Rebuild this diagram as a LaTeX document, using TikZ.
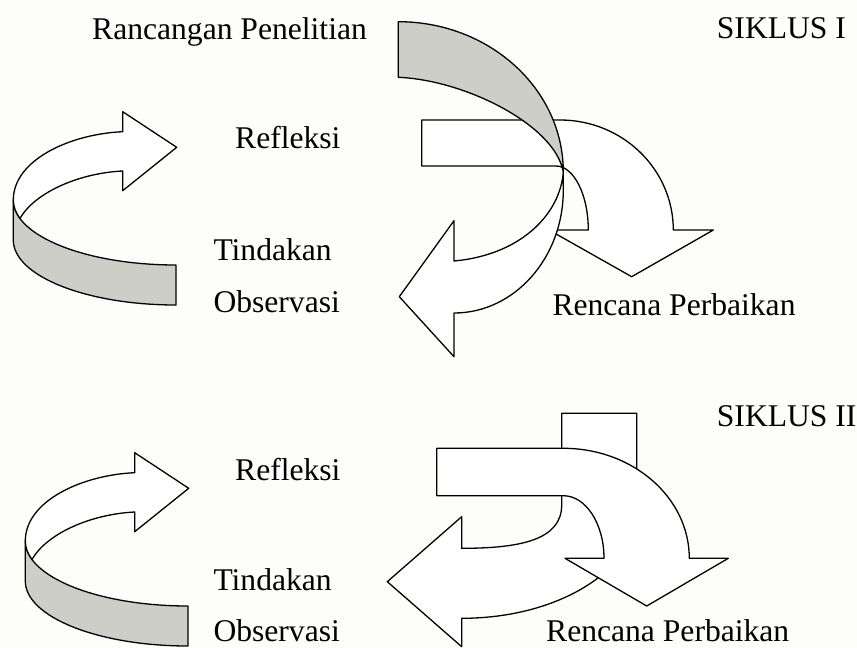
\documentclass[tikz,border=0pt]{standalone}
\usepackage{fontspec}
\setmainfont{Liberation Serif}
\definecolor{bandgray}{RGB}{206,206,201}
\definecolor{bgcol}{RGB}{253,253,249}
\tikzset{
  shapeline/.style={draw=black, line width=1.3pt, line join=round, fill=white},
  bandshape/.style={draw=black, line width=1.3pt, line join=round, fill=bandgray},
  lbl/.style={anchor=base west, inner sep=0pt, font=\fontsize{31.6}{36}\selectfont},
  curvarrow/.pic={
    % grey cylinder band
    \path[bandshape] (13.3,200) -- (13.3,240) .. controls (13.3,275.9) and (86.1,305) .. (176,305)
      -- (176,265) .. controls (86.1,265) and (13.3,235.9) .. (13.3,200) -- cycle;
    % white upper part with head
    \path[shapeline] (122.7,131.7) .. controls (70,134) and (13.3,160) .. (13.3,200)
      .. controls (13.3,207) and (16,213) .. (20,218.5)
      .. controls (35,192) and (80,173) .. (122.7,171)
      -- (122.7,190.7) -- (176.7,147.3) -- (122.7,111.7) -- cycle;
  }
}
\begin{document}
\begin{tikzpicture}[x=1pt, y=-1pt]
\fill[bgcol] (0,0) rectangle (857,648);
\useasboundingbox (0,0) rectangle (857,648);

% ---------- SIKLUS I ----------
\pic at (0,0) {curvarrow};

% bent arrow (Rencana Perbaikan)
\path[shapeline] (421.7,120) -- (560,120) .. controls (622.6,120) and (673.3,169.3) .. (673.3,230)
  -- (713.3,230) -- (631.7,276.7) -- (549,230) -- (588.3,230)
  .. controls (588.3,194.7) and (573.8,166) .. (556,166) -- (421.7,166) -- cycle;

% big curved arrow: grey back band
\path[bandshape] (398.3,21.7) .. controls (489.4,21.7) and (563.3,89) .. (563.3,172)
  .. controls (555,125) and (465,80) .. (398.3,77.3) -- cycle;
% big curved arrow: white front with head
\path[shapeline] (563.3,172) -- (563.3,190) .. controls (563.3,257.9) and (514.4,313) .. (454,313)
  -- (454,356.7) -- (399.3,296.7) -- (454,220.7) -- (454,261)
  .. controls (520,255) and (560,215) .. (563.3,172) -- cycle;

\node[lbl] (rp) at (92,39) {Rancangan Penelitian};
\node[lbl] (s1) at (716.7,38) {SIKLUS I};
\node[lbl] (r1) at (235,148) {Refleksi};
\node[lbl] (t1) at (213.3,260) {Tindakan};
\node[lbl] (o1) at (213.3,312) {Observasi};
\node[lbl] (p1) at (552.3,315) {Rencana Perbaikan};

% ---------- SIKLUS II ----------
\pic at (12,341) {curvarrow};

% big curved arrow (behind)
\path[shapeline] (561.7,413.3) -- (636.7,413.3) -- (636.7,510)
  .. controls (636.7,569.8) and (558.3,618.3) .. (461.7,618.3)
  -- (461.7,646.7) -- (387.3,581.7) -- (461.7,516.7) -- (461.7,548.3)
  .. controls (520,548.3) and (561.7,540) .. (561.7,505) -- cycle;

% bent arrow (front)
\path[shapeline] (436.7,448.3) -- (563.3,448.3) .. controls (632.9,448.3) and (689.3,497.6) .. (689.3,558.3)
  -- (728.3,558.3) -- (646.7,606) -- (565,558.3) -- (604,558.3)
  .. controls (604,523.7) and (585.8,495.7) .. (563.3,495.7) -- (436.7,495.7) -- cycle;

\node[lbl] (s2) at (716.7,426) {SIKLUS II};
\node[lbl] (r2) at (235,480) {Refleksi};
\node[lbl] (t2) at (213.3,590) {Tindakan};
\node[lbl] (o2) at (213.3,641) {Observasi};
\node[lbl] (p2) at (546,641) {Rencana Perbaikan};
\end{tikzpicture}
\end{document}
